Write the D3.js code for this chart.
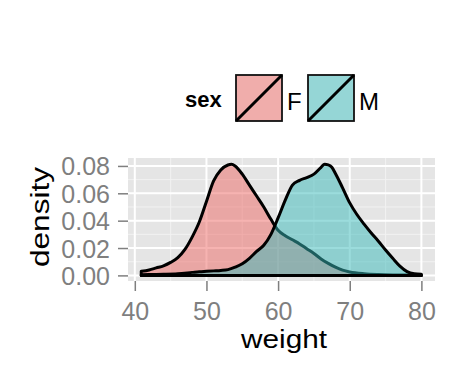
<!DOCTYPE html>
<html><head><meta charset="utf-8">
<script src="https://cdn.jsdelivr.net/npm/d3@7"></script>
<style>body{margin:0;background:#fff}svg{display:block}text{font-family:"Liberation Sans",Arial,sans-serif}</style>
</head><body>
<svg id="c" width="474" height="379"></svg>
<script>
const groups = ["F","M"];
const groupColors = ["#ED6763","#37B9B9"];
const xTicks = [40,50,60,70,80];
const yTicks = [0,0.02,0.04,0.06,0.08];
const yTickLabels = ["0.00","0.02","0.04","0.06","0.08"];
const xMinor = [45,55,65,75];
const yMinor = [0.01,0.03,0.05,0.07];

const weightF = [40.9,42,43,44,45,46,47,48,49,50,51,52,53,53.5,54,55,56,57,58,59,60,61,62,63,64,65,66,67,68,69,70,72,74,76,78,80];
const densityF = [0.003,0.004,0.0055,0.007,0.0095,0.013,0.019,0.028,0.039,0.054,0.069,0.077,0.0807,0.0812,0.080,0.074,0.066,0.058,0.05,0.041,0.033,0.029,0.026,0.023,0.0195,0.016,0.012,0.0088,0.006,0.0038,0.0025,0.0012,0.0006,0.0003,0.0002,0.0001];
const weightM = [40.9,42,44,46,48,49,50,51,52,53,54,55,56,57,58,59,60,61,62,63,64,65,66,66.5,67,67.5,68,69,70,71,72,73,74,75,76,77,78,79,80];
const densityM = [0.0004,0.0006,0.0008,0.0012,0.0022,0.0027,0.003,0.0033,0.0036,0.0042,0.006,0.0085,0.0125,0.0175,0.022,0.030,0.042,0.055,0.066,0.0695,0.0715,0.074,0.079,0.0812,0.0808,0.079,0.0745,0.064,0.053,0.0445,0.0375,0.031,0.025,0.0185,0.0125,0.0068,0.0028,0.0012,0.0008];

const svg = d3.select("#c");
const x = d3.scaleLinear().domain([39.05,81.9]).range([128,435]);
const y = d3.scaleLinear().domain([-0.0041,0.0858]).range([281,158]);

svg.append("rect").attr("x",128).attr("y",158).attr("width",307).attr("height",123).attr("fill","#E5E5E5");
const g = svg.append("g");
g.selectAll(".vm").data(xMinor).enter().append("line").attr("x1",d=>x(d)).attr("x2",d=>x(d)).attr("y1",158).attr("y2",281).attr("stroke","#F2F2F2").attr("stroke-width",1);
g.selectAll(".hm").data(yMinor).enter().append("line").attr("y1",d=>y(d)).attr("y2",d=>y(d)).attr("x1",128).attr("x2",435).attr("stroke","#F2F2F2").attr("stroke-width",1);
g.selectAll(".vM").data(xTicks).enter().append("line").attr("x1",d=>x(d)).attr("x2",d=>x(d)).attr("y1",158).attr("y2",281).attr("stroke","#fff").attr("stroke-width",2);
g.selectAll(".hM").data(yTicks).enter().append("line").attr("y1",d=>y(d)).attr("y2",d=>y(d)).attr("x1",128).attr("x2",435).attr("stroke","#fff").attr("stroke-width",2);

const series = [
  {key:"F", xs:weightF, ys:densityF, color:groupColors[0]},
  {key:"M", xs:weightM, ys:densityM, color:groupColors[1]}
];
const area = d3.area().x(d=>x(d[0])).y0(y(0)).y1(d=>y(d[1])).curve(d3.curveMonotoneX);
series.forEach(s=>{
  const pts = s.xs.map((v,i)=>[v,s.ys[i]]);
  svg.append("path").attr("d",area(pts)).attr("fill",s.color).attr("fill-opacity",0.5)
    .attr("stroke","#000").attr("stroke-width",3).attr("stroke-linejoin","round");
});

// axes
const xAxis = d3.axisBottom(x).tickValues(xTicks).tickSize(10).tickPadding(11).tickFormat(d3.format("d"));
const xa = svg.append("g").attr("transform","translate(0,281)").call(xAxis);
xa.select(".domain").remove();
xa.selectAll(".tick line").attr("stroke","#7F7F7F").attr("stroke-width",1.5);
xa.selectAll(".tick text").attr("fill","#7F7F7F").attr("font-size",25).attr("font-family","Liberation Sans, Arial, sans-serif");

const yAxis = d3.axisLeft(y).tickValues(yTicks).tickSize(10).tickPadding(8).tickFormat((d,i)=>yTickLabels[i]);
const ya = svg.append("g").attr("transform","translate(128,0)").call(yAxis);
ya.select(".domain").remove();
ya.selectAll(".tick line").attr("stroke","#7F7F7F").attr("stroke-width",1.5);
ya.selectAll(".tick text").attr("fill","#7F7F7F").attr("font-size",25).attr("font-family","Liberation Sans, Arial, sans-serif").attr("dy","0.36em");

svg.append("text").attr("x",284).attr("y",348).attr("text-anchor","middle").attr("font-size",25)
  .attr("textLength",86).attr("lengthAdjust","spacingAndGlyphs").text("weight");
svg.append("text").attr("transform","translate(49,217) rotate(-90)").attr("text-anchor","middle").attr("font-size",26)
  .attr("textLength",100).attr("lengthAdjust","spacingAndGlyphs").text("density");

// legend
svg.append("text").attr("x",185).attr("y",107).attr("font-size",22).attr("font-weight","bold").text("sex");
const keyX = [236,308];
groups.forEach((k,i)=>{
  const kx = keyX[i];
  svg.append("rect").attr("x",kx).attr("y",75).attr("width",46).attr("height",46).attr("fill","#F2F2F2");
  svg.append("rect").attr("x",kx).attr("y",75).attr("width",46).attr("height",46).attr("fill",groupColors[i]).attr("fill-opacity",0.5)
    .attr("stroke","#111").attr("stroke-width",1.8);
  svg.append("line").attr("x1",kx).attr("y1",121).attr("x2",kx+46).attr("y2",75).attr("stroke","#000").attr("stroke-width",3);
  svg.append("text").attr("x",kx+51).attr("y",110).attr("font-size",24).text(k);
});
</script>
</body></html>
